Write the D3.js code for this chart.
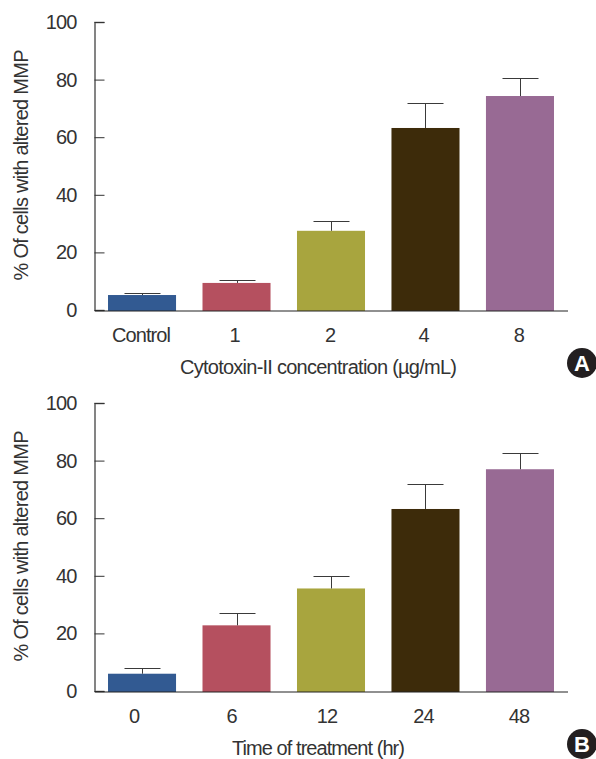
<!DOCTYPE html>
<html><head><meta charset="utf-8">
<script src="https://cdnjs.cloudflare.com/ajax/libs/d3/7.8.5/d3.min.js"></script>
<style>
html,body{margin:0;padding:0;background:#fff}
svg{display:block}
text{font-family:"Liberation Sans",Arial,sans-serif;fill:#333}
</style></head><body><svg id="c" width="596" height="759"></svg>
<script>
const yTicks=[0,20,40,60,80,100];
const catsA=["Control","1","2","4","8"];
const valsA=[5.2,9.4,27.5,63.2,74.3];
const topsA=[6,10.5,31,72,80.5];
const catsB=["0","6","12","24","48"];
const valsB=[6,22.8,35.6,63.2,77];
const topsB=[8,27,40,72,82.8];
const colors=["#325a92","#b5505f","#a8a53e","#3d2b0a","#986a94"];
const labelShiftA=[-1,-2,-1,-2,-1];
const labelShiftB=[-8,-5,-4,-2,-1];
const FONT='"Liberation Sans",Arial,sans-serif';

const svg=d3.select("#c");
function style(sel){
  sel.attr("font-size",20).attr("font-family",FONT).attr("fill","#333").style("letter-spacing","-0.9px");
}
function panel(cfg){
  const {cats,vals,tops,top,base,xTitle,xTitleX,titleY,letter,letterY,shift}=cfg;
  const g=svg.append("g");
  const y=d3.scaleLinear().domain([0,100]).range([base,top]);
  const x=d3.scaleBand().domain(cats).range([94.5,567.5]).paddingInner(0.28).paddingOuter(0.143);
  const idx=d3.range(cats.length);
  g.selectAll("rect").data(idx).join("rect")
    .attr("x",i=>x(cats[i])).attr("width",x.bandwidth())
    .attr("y",i=>y(vals[i])).attr("height",i=>base-y(vals[i])+1)
    .attr("fill",i=>colors[i]);
  g.selectAll("path.e").data(idx).join("path").attr("class","e")
    .attr("fill","none").attr("stroke","#3a3a3a").attr("stroke-width",1)
    .attr("d",i=>{const c=Math.round(x(cats[i])+x.bandwidth()/2)+0.5,t=Math.round(y(tops[i]))+0.5,b=y(vals[i]);
      return `M${c-18},${t}H${c+18}M${c},${t}V${b}`;});
  const ya=g.append("g").attr("transform","translate(94.5,0)")
    .call(d3.axisLeft(y).tickValues(yTicks).tickSize(-10).tickPadding(18));
  ya.select(".domain").attr("stroke","#666").attr("stroke-width",1.6);
  ya.selectAll(".tick line").attr("stroke","#333").attr("stroke-width",1);
  style(ya.selectAll("text"));
  const xa=g.append("g").attr("transform",`translate(0,${base+0.5})`)
    .call(d3.axisBottom(x).tickSize(0).tickPadding(17));
  xa.select(".domain").attr("stroke","#222").attr("stroke-width",1.2);
  style(xa.selectAll("text"));
  xa.selectAll("text").attr("dx",(d,i)=>shift[i]);
  g.append("text").attr("x",xTitleX).attr("y",titleY).attr("text-anchor","middle")
    .attr("font-size",20).attr("textLength",cfg.titleLen).attr("lengthAdjust","spacing").text(xTitle);
  g.append("text").attr("transform",`translate(28,${(top+base)/2-1}) rotate(-90)`)
    .attr("text-anchor","middle").attr("font-size",20).attr("textLength",231).attr("lengthAdjust","spacing").text("% Of cells with altered MMP");
  g.append("circle").attr("cx",582).attr("cy",letterY).attr("r",15).attr("fill","#231f20");
  g.append("text").attr("x",582).attr("y",letterY+8).attr("text-anchor","middle")
    .attr("font-size",22).attr("font-weight","bold").style("fill","#fff").text(letter);
}
panel({cats:catsA,vals:valsA,tops:topsA,top:22,base:310,xTitle:"Cytotoxin-II concentration (µg/mL)",xTitleX:318.5,titleY:374,titleLen:277,letter:"A",letterY:363,shift:labelShiftA});
panel({cats:catsB,vals:valsB,tops:topsB,top:403,base:691,xTitle:"Time of treatment (hr)",xTitleX:318.5,titleY:755,titleLen:173,letter:"B",letterY:744,shift:labelShiftB});
</script></body></html>
